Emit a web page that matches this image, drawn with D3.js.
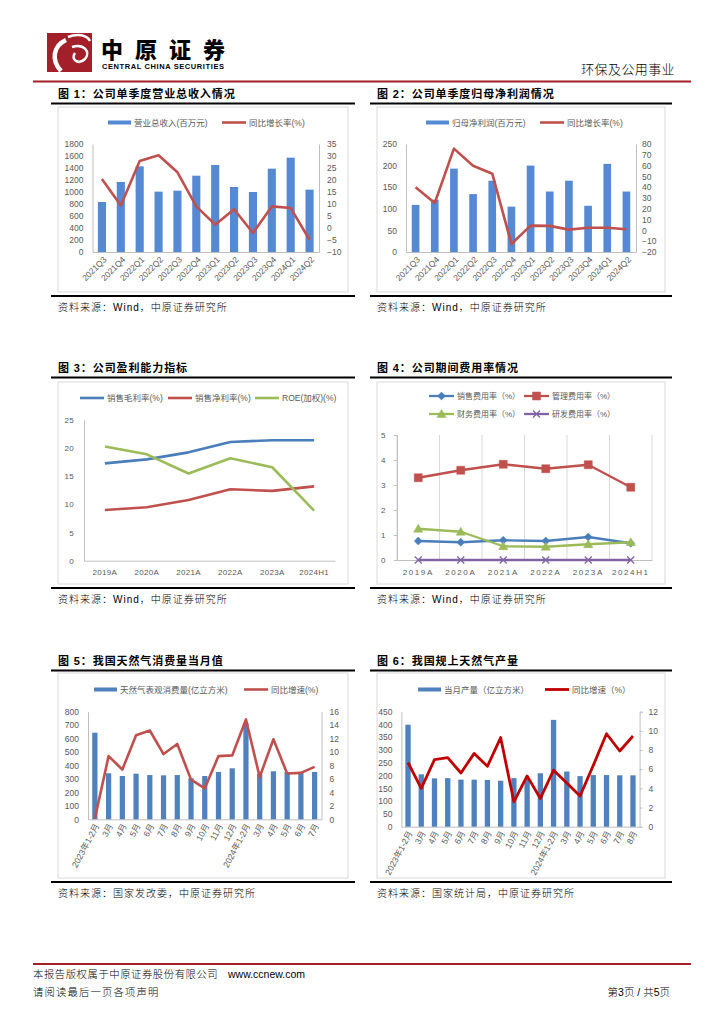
<!DOCTYPE html>
<html>
<head>
<meta charset="utf-8">
<script src="https://cdn.jsdelivr.net/npm/d3@7"></script>
<style>
body { margin: 0; background: #fff; }
svg text { font-family: "Liberation Sans", Arial, "Noto Sans CJK SC", sans-serif; }
</style>
</head>
<body>
<svg id="page" width="724" height="1024"></svg>
<script>
// ---- data ----
var quarters = ["2021Q3", "2021Q4", "2022Q1", "2022Q2", "2022Q3", "2022Q4",
    "2023Q1", "2023Q2", "2023Q3", "2023Q4", "2024Q1", "2024Q2"];
var revenue = [833, 1167, 1428, 1006, 1022, 1272, 1450, 1083, 1000, 1389, 1572, 1039];
var revenueYoy = [20.4, 9.4, 27.9, 30.3, 23.2, 9.0, 1.4, 7.8, -2.1, 9.0, 8.3, -4.9];
var profit = [109, 121, 193, 134, 165, 105, 200, 140, 165, 107, 204, 140];
var profitYoy = [39.9, 25.4, 75.7, 59.9, 52.5, -12.6, 4.4, 4.2, 0.7, 2.5, 2.5, 1.0];

var years = ["2019A", "2020A", "2021A", "2022A", "2023A", "2024H1"];
var grossMargin = [17.3, 18.0, 19.25, 21.1, 21.4, 21.4];
var netMargin = [9.0, 9.5, 10.8, 12.7, 12.4, 13.2];
var roe = [20.3, 18.9, 15.5, 18.2, 16.6, 8.9];
var sellRate = [0.76, 0.71, 0.79, 0.76, 0.92, 0.67];
var mgmtRate = [3.29, 3.59, 3.83, 3.65, 3.81, 2.91];
var finRate = [1.25, 1.13, 0.55, 0.53, 0.63, 0.71];
var rdRate = [0, 0, 0, 0, 0, 0];

var months5 = ["2023年1-2月", "3月", "4月", "5月", "6月", "7月", "8月", "9月", "10月", "11月", "12月",
    "2024年1-2月", "3月 ", "4月 ", "5月 ", "6月 ", "7月 "];
var gasUse = [644, 342, 322, 339, 329, 327, 329, 305, 322, 352, 379, 713, 338, 357, 352, 347, 352];
var gasUseYoy = [0.1, 9.4, 7.4, 12.5, 13.2, 9.7, 11.2, 5.9, 4.6, 9.4, 9.5, 14.85, 6.3, 11.9, 6.8, 6.9, 7.8];

var months6 = ["2023年1-2月", "3月", "4月", "5月", "6月", "7月", "8月", "9月", "10月", "11月", "12月",
    "2024年1-2月", "3月 ", "4月 ", "5月 ", "6月 ", "7月 ", "8月 "];
var gasOut = [399, 205, 189, 190, 184, 184, 183, 180, 190, 189, 209, 418, 216, 198, 202, 202, 201, 201];
var gasOutYoy = [6.7, 4.0, 7.0, 7.2, 5.6, 7.65, 6.3, 9.3, 2.6, 5.3, 2.95, 5.9, 4.55, 3.2, 6.4, 9.7, 7.9, 9.46];

var svg = d3.select("#page");
var GRAY = "#595959";
var AXIS = "#BFBFBF";
var CJK = '"Noto Sans CJK SC", sans-serif';

// ---- page header ----
svg.append("rect").attr("x", 47).attr("y", 33).attr("width", 45).attr("height", 39).attr("fill", "#A3202A");
svg.append("path").attr("d", "M68,37 C77,33 87,35 90,41").attr("stroke", "#fff").attr("stroke-width", 2.5).attr("fill", "none");
svg.append("path").attr("d", "M66,40 C53,46 51,60 61,71").attr("stroke", "#fff").attr("stroke-width", 4.5).attr("fill", "none");
svg.append("path").attr("d", "M72,47 C84,43 91,52 85,59 C79,65 70,60 75,53").attr("stroke", "#fff").attr("stroke-width", 2.5).attr("fill", "none");
svg.append("text").attr("x", 101).attr("y", 58).attr("font-family", CJK).attr("font-weight", 900)
    .attr("font-size", 22).attr("textLength", 124).text("中原证券");
svg.append("text").attr("x", 102).attr("y", 68.5).attr("font-weight", "bold")
    .attr("font-size", 7.5).attr("textLength", 122).text("CENTRAL CHINA SECURITIES");
svg.append("text").attr("x", 675).attr("y", 74).attr("text-anchor", "end").attr("font-family", CJK)
    .attr("font-size", 13).attr("letter-spacing", 0.4).attr("font-weight", 300).text("环保及公用事业");
svg.append("line").attr("x1", 33).attr("x2", 691).attr("y1", 81.5).attr("y2", 81.5)
    .attr("stroke", "#A3202A").attr("stroke-width", 2);

// ---- page footer ----
svg.append("line").attr("x1", 33).attr("x2", 691).attr("y1", 964).attr("y2", 964)
    .attr("stroke", "#A3202A").attr("stroke-width", 2);
svg.append("text").attr("x", 33).attr("y", 978).attr("font-family", CJK).attr("font-size", 10.3)
    .attr("letter-spacing", 0.6).attr("font-weight", 300).text("本报告版权属于中原证券股份有限公司");
svg.append("text").attr("x", 228).attr("y", 978).attr("font-size", 10.5).text("www.ccnew.com");
svg.append("text").attr("x", 33).attr("y", 996).attr("font-family", CJK).attr("font-size", 10.3)
    .attr("letter-spacing", 1.2).attr("font-weight", 300).text("请阅读最后一页各项声明");
svg.append("text").attr("x", 670).attr("y", 996).attr("text-anchor", "end").attr("font-family", CJK)
    .attr("font-size", 10.5).attr("font-weight", 300).text("第3页 / 共5页");

// ---- panel frames ----
function frame(x1, x2, titleY, title, boxTop, boxBot, source) {
    svg.append("text").attr("x", x1 + 7).attr("y", titleY).attr("font-family", CJK)
        .attr("font-weight", 700).attr("font-size", 11).attr("letter-spacing", 0.9).text(title);
    svg.append("line").attr("x1", x1).attr("x2", x2).attr("y1", titleY + 5.5).attr("y2", titleY + 5.5)
        .attr("stroke", "#000").attr("stroke-width", 2);
    svg.append("rect").attr("x", x1 + 7).attr("y", boxTop).attr("width", x2 - x1 - 14)
        .attr("height", boxBot - boxTop).attr("fill", "none").attr("stroke", "#D9D9D9");
    svg.append("line").attr("x1", x1).attr("x2", x2).attr("y1", boxBot + 4).attr("y2", boxBot + 4)
        .attr("stroke", "#000").attr("stroke-width", 2);
    svg.append("text").attr("x", x1 + 7).attr("y", boxBot + 19).attr("font-family", CJK)
        .attr("font-size", 10).attr("letter-spacing", 1).attr("font-weight", 300).text(source);
}

frame(51, 355, 98, "图 1：公司单季度营业总收入情况", 107, 292, "资料来源：Wind，中原证券研究所");
frame(370, 672, 98, "图 2：公司单季度归母净利润情况", 107, 292, "资料来源：Wind，中原证券研究所");
frame(51, 355, 372, "图 3：公司盈利能力指标", 382, 584, "资料来源：Wind，中原证券研究所");
frame(370, 672, 372, "图 4：公司期间费用率情况", 382, 584, "资料来源：Wind，中原证券研究所");
frame(51, 355, 665, "图 5：我国天然气消费量当月值", 673, 878, "资料来源：国家发改委，中原证券研究所");
frame(370, 672, 665, "图 6：我国规上天然气产量", 673, 878, "资料来源：国家统计局，中原证券研究所");

// ---- legend pieces ----
function legendBar(x, y, color, label) {
    svg.append("rect").attr("x", x).attr("y", y - 2).attr("width", 23).attr("height", 4).attr("fill", color);
    svg.append("text").attr("x", x + 26).attr("y", y + 3).attr("font-size", 8.5).attr("fill", GRAY).text(label);
}
function legendLine(x, y, color, width, label) {
    svg.append("line").attr("x1", x).attr("x2", x + 24).attr("y1", y).attr("y2", y)
        .attr("stroke", color).attr("stroke-width", width);
    svg.append("text").attr("x", x + 27).attr("y", y + 3).attr("font-size", 8.5).attr("fill", GRAY).text(label);
}

// ---- bar + line dual axis chart ----
function barLineChart(c) {
    var x = d3.scaleBand().domain(c.cats).range([c.left, c.right]).paddingInner(c.pad).paddingOuter(c.pad / 2);
    var yL = d3.scaleLinear().domain(c.lDomain).range([c.bottom, c.top]);
    var yR = d3.scaleLinear().domain(c.rDomain).range([c.bottom, c.top]);
    var g = svg.append("g");

    var left = g.append("g").attr("transform", "translate(" + c.left + ",0)")
        .call(d3.axisLeft(yL).tickValues(c.lTicks).tickSize(0).tickPadding(9).tickFormat(d3.format("d")));
    var right = g.append("g").attr("transform", "translate(" + c.right + ",0)")
        .call(d3.axisRight(yR).tickValues(c.rTicks).tickSize(c.rTickSize || 0).tickPadding(c.rPad).tickFormat(d3.format("d")));
    var bottom = g.append("g").attr("transform", "translate(0," + c.bottom + ")")
        .call(d3.axisBottom(x).tickSize(0).tickPadding(0));
    [left, right, bottom].forEach(function (a) {
        a.select(".domain").attr("stroke", AXIS);
        a.selectAll(".tick line").attr("stroke", AXIS);
        a.selectAll("text").attr("fill", GRAY).attr("font-size", 8.5);
    });
    bottom.selectAll("text")
        .attr("text-anchor", "end")
        .attr("transform", "translate(" + c.lx + "," + c.ly + ") rotate(" + c.rotate + ")")
        .attr("dy", "0.35em").attr("y", 0);

    g.selectAll(".bar").data(c.bars).enter().append("rect")
        .attr("x", function (d, i) { return x(c.cats[i]); })
        .attr("y", function (d) { return yL(d); })
        .attr("width", x.bandwidth())
        .attr("height", function (d) { return c.bottom - yL(d); })
        .attr("fill", c.barColor);

    var line = d3.line()
        .x(function (d, i) { return x(c.cats[i]) + x.bandwidth() / 2; })
        .y(function (d) { return yR(d); });
    g.append("path").datum(c.line).attr("d", line).attr("fill", "none")
        .attr("stroke", c.lineColor).attr("stroke-width", c.lineWidth).attr("stroke-linejoin", "round");
}

barLineChart({
    cats: quarters, bars: revenue, line: revenueYoy,
    left: 92.5, right: 319, top: 144, bottom: 252, pad: 0.57,
    lDomain: [0, 1800], lTicks: d3.range(0, 1801, 200),
    rDomain: [-10, 35], rTicks: d3.range(-10, 36, 5), rPad: 8,
    rotate: -45, lx: 3, ly: 6,
    barColor: "#5589D4", lineColor: "#C0504D", lineWidth: 2.6
});
legendBar(108, 122.5, "#5589D4", "营业总收入(百万元)");
legendLine(222, 122.5, "#C0504D", 2.6, "同比增长率(%)");

barLineChart({
    cats: quarters, bars: profit, line: profitYoy,
    left: 406, right: 636, top: 144, bottom: 252, pad: 0.6,
    lDomain: [0, 250], lTicks: d3.range(0, 251, 50),
    rDomain: [-20, 80], rTicks: d3.range(-20, 81, 10), rPad: 6,
    rotate: -45, lx: 3, ly: 6,
    barColor: "#5589D4", lineColor: "#C0504D", lineWidth: 2.6
});
legendBar(426, 122.5, "#5589D4", "归母净利润(百万元)");
legendLine(540, 122.5, "#C0504D", 2.6, "同比增长率(%)");

barLineChart({
    cats: months5, bars: gasUse, line: gasUseYoy,
    left: 88, right: 321.5, top: 711.7, bottom: 819.3, pad: 0.62,
    lDomain: [0, 800], lTicks: d3.range(0, 801, 100),
    rDomain: [0, 16], rTicks: d3.range(0, 17, 2), rPad: 8,
    rotate: -62, lx: 2, ly: 5,
    barColor: "#4F81BD", lineColor: "#C0504D", lineWidth: 2.6
});
legendBar(94, 689.5, "#4F81BD", "天然气表观消费量(亿立方米)");
legendLine(244, 689.5, "#C0504D", 2.6, "同比增速(%)");

barLineChart({
    cats: months6, bars: gasOut, line: gasOutYoy,
    left: 401.4, right: 639.6, top: 711.7, bottom: 826.7, pad: 0.6,
    lDomain: [0, 450], lTicks: d3.range(0, 451, 50),
    rDomain: [0, 12], rTicks: d3.range(0, 13, 2), rPad: 6, rTickSize: 3,
    rotate: -62, lx: 2, ly: 5,
    barColor: "#4F81BD", lineColor: "#C00000", lineWidth: 2.8
});
legendBar(418, 689.5, "#4F81BD", "当月产量（亿立方米）");
legendLine(545, 689.5, "#C00000", 2.8, "同比增速（%）");

// ---- line charts ----
function lineChart(c) {
    var x = d3.scaleBand().domain(c.cats).range([c.left, c.right]);
    var y = d3.scaleLinear().domain(c.domain).range([c.bottom, c.top]);
    var g = svg.append("g");
    if (c.grid) {
        g.selectAll(".vgrid").data(c.cats.concat(["end"])).enter().append("line")
            .attr("x1", function (d, i) { return c.left + i * x.step(); })
            .attr("x2", function (d, i) { return c.left + i * x.step(); })
            .attr("y1", c.top).attr("y2", c.bottom).attr("stroke", "#D9D9D9");
    }
    var left = g.append("g").attr("transform", "translate(" + c.left + ",0)")
        .call(d3.axisLeft(y).tickValues(c.ticks).tickSize(c.tickSize).tickPadding(c.tickPad).tickFormat(d3.format("d")));
    var bottom = g.append("g").attr("transform", "translate(0," + c.bottom + ")")
        .call(d3.axisBottom(x).tickSize(0).tickPadding(9));
    [left, bottom].forEach(function (a) {
        a.select(".domain").attr("stroke", AXIS);
        a.selectAll(".tick line").attr("stroke", AXIS);
        a.selectAll("text").attr("fill", GRAY).attr("font-size", c.fontSize).attr("letter-spacing", c.spacing);
    });
    var cx = function (i) { return x(c.cats[i]) + x.bandwidth() / 2; };
    c.series.forEach(function (s) {
        var line = d3.line().x(function (d, i) { return cx(i); }).y(function (d) { return y(d); });
        g.append("path").datum(s.values).attr("d", line).attr("fill", "none")
            .attr("stroke", s.color).attr("stroke-width", c.lineWidth).attr("stroke-linejoin", "round");
        if (s.marker) {
            g.selectAll(null).data(s.values).enter().append("path")
                .attr("transform", function (d, i) { return "translate(" + cx(i) + "," + y(d) + ")"; })
                .attr("d", marker(s.marker))
                .attr("fill", s.marker === "x" ? "none" : s.color)
                .attr("stroke", s.color).attr("stroke-width", s.marker === "x" ? 1.3 : 0.5);
        }
    });
}

function marker(type) {
    if (type === "diamond") return d3.symbol().type(d3.symbolDiamond2).size(40)();
    if (type === "square") return "M-4,-4H4V4H-4Z";
    if (type === "triangle") return "M0,-4.6L4.6,3.4H-4.6Z";
    return "M-3.5,-3.5L3.5,3.5M-3.5,3.5L3.5,-3.5";
}

lineChart({
    cats: years, left: 84, right: 335, top: 420, bottom: 560.7,
    domain: [0, 25], ticks: d3.range(0, 26, 5), tickSize: 0, tickPad: 10,
    fontSize: 8, spacing: 0.3, lineWidth: 2.6,
    series: [
        { values: grossMargin, color: "#4A7EBB" },
        { values: netMargin, color: "#C0504D" },
        { values: roe, color: "#9BBB59" }
    ]
});
legendLine(80, 398, "#4A7EBB", 2.6, "销售毛利率(%)");
legendLine(168, 398, "#C0504D", 2.6, "销售净利率(%)");
legendLine(255, 398, "#9BBB59", 2.6, "ROE(加权)(%)");

lineChart({
    cats: years, left: 397, right: 652, top: 435, bottom: 560,
    domain: [0, 5], ticks: d3.range(0, 6, 1), tickSize: 3, tickPad: 7, grid: true,
    fontSize: 8, spacing: 1.6, lineWidth: 2.3,
    series: [
        { values: sellRate, color: "#4A7EBB", marker: "diamond" },
        { values: mgmtRate, color: "#C0504D", marker: "square" },
        { values: finRate, color: "#9BBB59", marker: "triangle" },
        { values: rdRate, color: "#8064A2", marker: "x" }
    ]
});

function legendMarker(x, y, color, type, label) {
    svg.append("line").attr("x1", x).attr("x2", x + 25).attr("y1", y).attr("y2", y)
        .attr("stroke", color).attr("stroke-width", 2.3);
    svg.append("path").attr("transform", "translate(" + (x + 12.5) + "," + y + ")").attr("d", marker(type))
        .attr("fill", type === "x" ? "none" : color).attr("stroke", color).attr("stroke-width", type === "x" ? 1.3 : 0.5);
    svg.append("text").attr("x", x + 28).attr("y", y + 3).attr("font-size", 8).attr("fill", GRAY).text(label);
}
legendMarker(429, 396, "#4A7EBB", "diamond", "销售费用率（%）");
legendMarker(524, 396, "#C0504D", "square", "管理费用率（%）");
legendMarker(429, 414, "#9BBB59", "triangle", "财务费用率（%）");
legendMarker(524, 414, "#8064A2", "x", "研发费用率（%）");
</script>
</body>
</html>
